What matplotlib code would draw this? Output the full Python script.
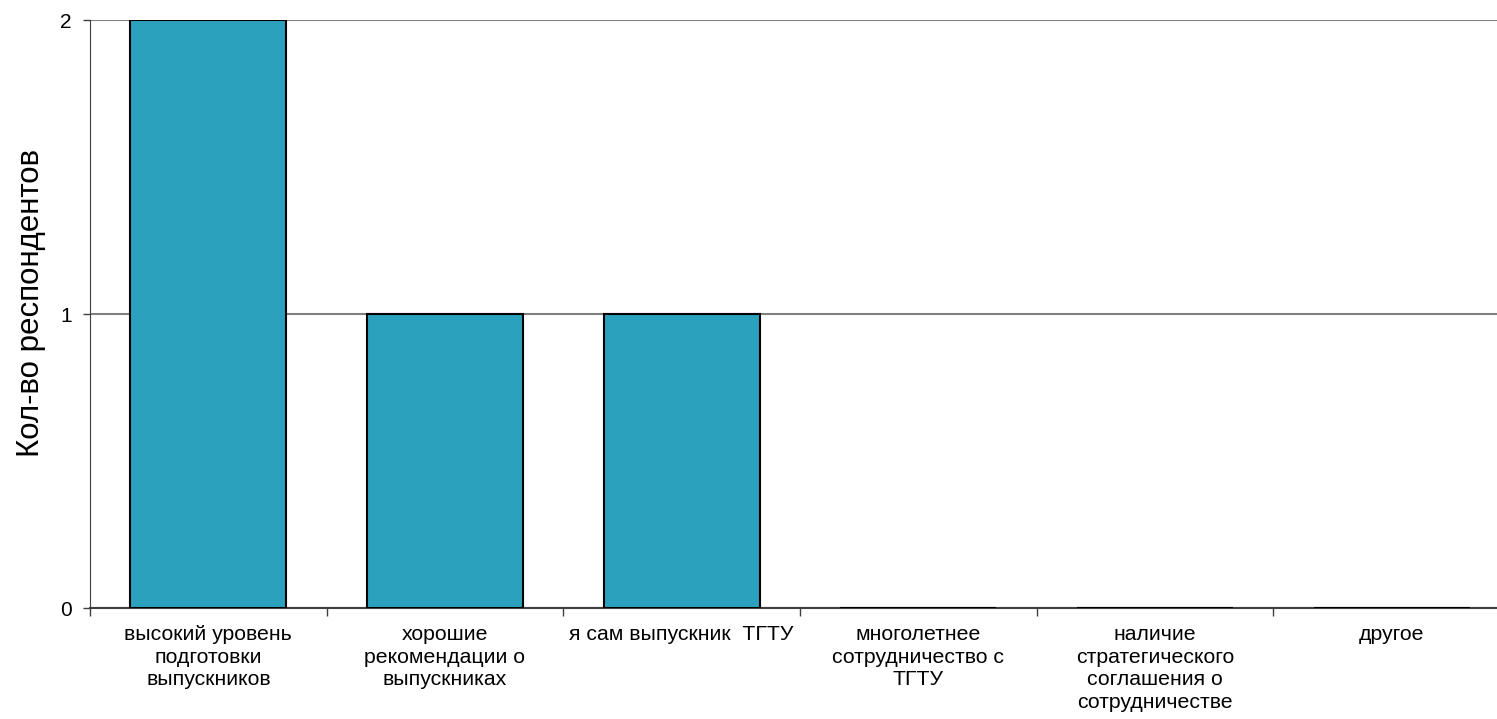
import matplotlib.pyplot as plt
import numpy as np

plt.rcParams['font.family'] = ['Liberation Sans', 'DejaVu Sans']

categories = ['высокий уровень\nподготовки\nвыпускников',
              'хорошие\nрекомендации о\nвыпускниках',
              'я сам выпускник  ТГТУ',
              'многолетнее\nсотрудничество с\nТГТУ',
              'наличие\nстратегического\nсоглашения о\nсотрудничестве',
              'другое']
counts = [2, 1, 1, 0, 0, 0]

fig = plt.figure(figsize=(14.97, 7.19), dpi=100)
ax = fig.add_axes([90/1497, 1 - 608/719, 1420/1497, (608 - 20)/719])

x = np.arange(len(categories))
ax.bar(x, counts, width=0.66, color='#2CA1BE', edgecolor='black', linewidth=1.5, zorder=3)

ax.set_xlim(-0.5, len(categories) - 0.5)
ax.set_ylim(0, 2)
ax.set_yticks([0, 1, 2])
ax.tick_params(axis='y', labelsize=15, length=5, width=1, color='#404040', pad=8)
ax.yaxis.grid(True, color='#808080', linewidth=1.5, zorder=0)

# category labels centred, ticks between categories
ax.set_xticks(x)
ax.set_xticklabels(categories, fontsize=15.3, linespacing=1.26)
ax.tick_params(axis='x', which='major', length=0, pad=12)
ax.set_xticks(np.arange(len(categories) + 1) - 0.5, minor=True)
ax.tick_params(axis='x', which='minor', length=6, width=1, color='#404040')

for s in ['top', 'right']:
    ax.spines[s].set_visible(False)
ax.spines['left'].set_color('#404040')
ax.spines['bottom'].set_color('#404040')
ax.spines['bottom'].set_linewidth(1.5)

ax.set_ylabel('Кол-во респондентов', fontsize=22.5)
ax.yaxis.set_label_coords(-0.031, 0.519)

plt.savefig('out.png', dpi=100)
